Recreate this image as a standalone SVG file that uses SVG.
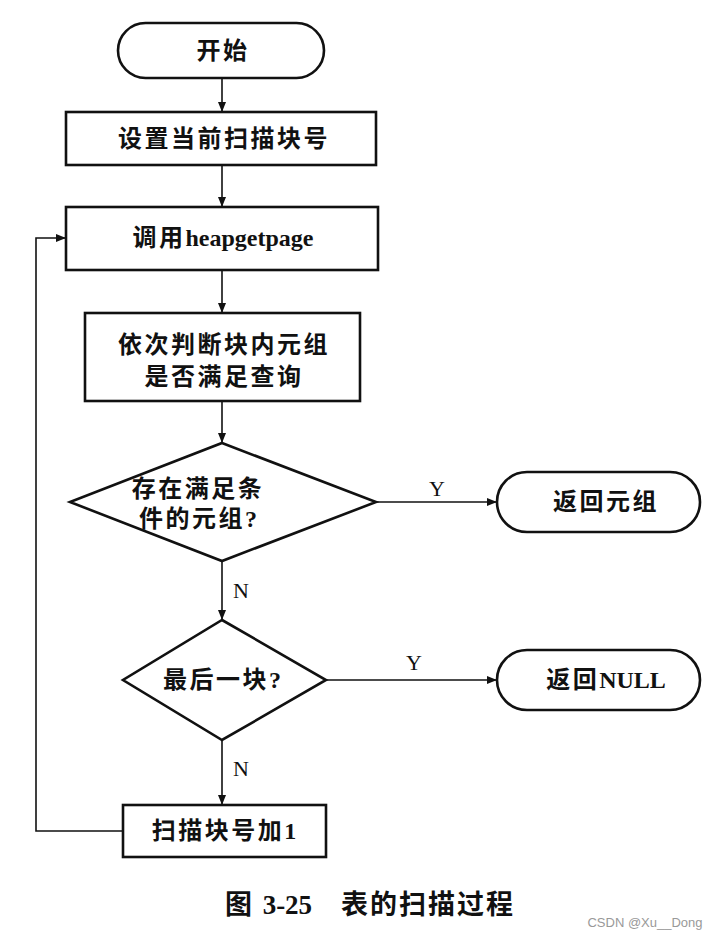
<svg xmlns="http://www.w3.org/2000/svg" width="716" height="940" viewBox="0 0 716 940">
<defs>
<marker id="arr" viewBox="0 0 10 10" refX="10" refY="5" markerWidth="10" markerHeight="10" markerUnits="userSpaceOnUse" orient="auto">
<path d="M0,1 L10,5 L0,9 Z" fill="#111"/>
</marker>
<style>
.shape{fill:#fff;stroke:#111;stroke-width:2.6}
.t{font-family:"Liberation Serif","Noto Sans CJK SC",serif;font-size:24px;font-weight:bold;fill:#111;text-anchor:middle;dominant-baseline:central;letter-spacing:2.5px}
.l{letter-spacing:0}
.lbl{font-family:"Liberation Serif",serif;font-size:22px;fill:#111;text-anchor:middle;dominant-baseline:central}
.conn{fill:none;stroke:#111;stroke-width:1.6}
</style>
</defs>
<rect width="716" height="940" fill="#fff"/>
<g id="connectors">
<line class="conn" x1="222" y1="78" x2="222" y2="112" marker-end="url(#arr)"/>
<line class="conn" x1="222" y1="165" x2="222" y2="207" marker-end="url(#arr)"/>
<line class="conn" x1="222" y1="270" x2="222" y2="313" marker-end="url(#arr)"/>
<line class="conn" x1="222" y1="401" x2="222" y2="443" marker-end="url(#arr)"/>
<line class="conn" x1="376" y1="502" x2="497" y2="502" marker-end="url(#arr)"/>
<text class="lbl" x="437" y="488">Y</text>
<line class="conn" x1="222" y1="561" x2="222" y2="620" marker-end="url(#arr)"/>
<text class="lbl" x="241" y="590">N</text>
<line class="conn" x1="326" y1="680" x2="497" y2="680" marker-end="url(#arr)"/>
<text class="lbl" x="414" y="662">Y</text>
<line class="conn" x1="222" y1="740" x2="222" y2="805" marker-end="url(#arr)"/>
<text class="lbl" x="241" y="768">N</text>
<polyline class="conn" points="123,831 36,831 36,238 66,238" marker-end="url(#arr)"/>
</g>
<g id="start">
<rect class="shape" x="118" y="23" width="206" height="55" rx="27.5"/>
<text class="t" x="223" y="51">开始</text>
</g>
<g id="set-block">
<rect class="shape" x="66" y="112" width="310" height="53"/>
<text class="t" x="224" y="139">设置当前扫描块号</text>
</g>
<g id="heapgetpage">
<rect class="shape" x="66" y="207" width="312" height="63"/>
<text class="t" x="223" y="238">调用<tspan class="l">heapgetpage</tspan></text>
</g>
<g id="check-tuples">
<rect class="shape" x="85" y="313" width="275" height="88"/>
<text class="t" x="224" y="345">依次判断块内元组</text>
<text class="t" x="224" y="377">是否满足查询</text>
</g>
<g id="decision-found">
<polygon class="shape" points="222,443 376,502 222,561 70,502"/>
<text class="t" x="198" y="489">存在满足条</text>
<text class="t" x="198" y="519">件的元组<tspan class="l">?</tspan></text>
</g>
<g id="return-tuple">
<rect class="shape" x="497" y="472" width="203" height="60" rx="30"/>
<text class="t" x="606" y="502">返回元组</text>
</g>
<g id="decision-last">
<polygon class="shape" points="222,620 326,680 222,740 123,680"/>
<text class="t" x="222" y="680">最后一块<tspan class="l">?</tspan></text>
</g>
<g id="return-null">
<rect class="shape" x="497" y="650" width="203" height="60" rx="30"/>
<text class="t" x="606" y="680">返回<tspan class="l">NULL</tspan></text>
</g>
<g id="next-block">
<rect class="shape" x="123" y="805" width="203" height="52"/>
<text class="t" x="224" y="831">扫描块号加<tspan class="l">1</tspan></text>
</g>
<g id="caption">
<text class="t" x="370" y="905" style="font-size:27px;letter-spacing:2px">图 <tspan class="l">3-25</tspan>　表的扫描过程</text>
<text x="645" y="922" style="font-family:'Liberation Sans',sans-serif;font-size:13px;fill:#999;text-anchor:middle;dominant-baseline:central">CSDN @Xu__Dong</text>
</g>
</svg>
